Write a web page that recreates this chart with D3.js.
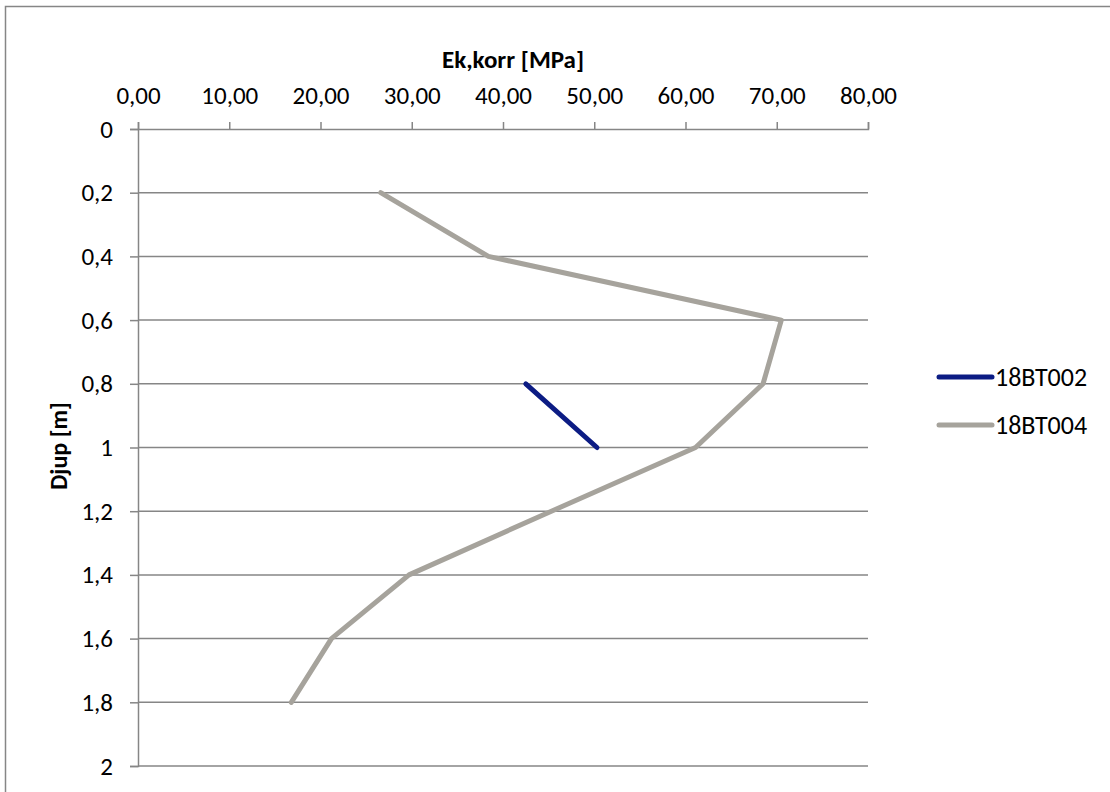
<!DOCTYPE html>
<html>
<head>
<meta charset="utf-8">
<script src="https://cdn.jsdelivr.net/npm/d3@7"></script>
<style>
  body { margin: 0; background: #fff; }
  text { font-family: Carlito, Calibri, Lato, sans-serif; fill: #000; }
</style>
</head>
<body>
<svg width="1110" height="792"></svg>
<script>
// depth [m] per sample
const depths002 = [0.8, 1.0]
const values002 = [42.5, 50.3]

const depths004 = [0.2, 0.4, 0.6, 0.8, 1.0, 1.2, 1.4, 1.6, 1.8]
const values004 = [26.6, 38.4, 70.5, 68.5, 61.1, 45.3, 29.7, 21.2, 16.8]

const seriesNames = ['18BT002', '18BT004']
const colors = ['#0c1c84', '#a6a39c']

const xTicks = [0, 10, 20, 30, 40, 50, 60, 70, 80]
const yTicks = [0, 0.2, 0.4, 0.6, 0.8, 1.0, 1.2, 1.4, 1.6, 1.8, 2.0]

const svg = d3.select('svg')

// frame round the chart (bottom/right run off the page)
svg.append('rect')
    .attr('x', 5.5).attr('y', 6.5)
    .attr('width', 1110).attr('height', 800)
    .attr('fill', 'none')
    .attr('stroke', '#868686')
    .attr('stroke-width', 1.5)

const x = d3.scaleLinear().domain([0, 80]).range([138, 868])
const y = d3.scaleLinear().domain([0, 2]).range([129, 766])

const comma = f => v => f(v).replace('.', ',')

// horizontal gridlines
svg.append('g')
    .selectAll('line')
    .data(yTicks.filter(d => d > 0))
    .join('line')
    .attr('x1', x(0)).attr('x2', x(80))
    .attr('y1', d => y(d)).attr('y2', d => y(d))
    .attr('stroke', '#868686')
    .attr('stroke-width', 1.5)

// top axis
const xAxis = svg.append('g')
    .attr('transform', `translate(0,${y(0)})`)
    .call(d3.axisTop(x).tickValues(xTicks).tickSize(7).tickPadding(18)
        .tickFormat(comma(d3.format('.2f'))))
xAxis.select('.domain').attr('stroke', '#868686').attr('stroke-width', 1.5)
xAxis.selectAll('.tick line').attr('stroke', '#868686').attr('stroke-width', 1.5)
xAxis.selectAll('.tick text').attr('font-size', 25).attr('fill', '#000')

// left axis
const yAxis = svg.append('g')
    .attr('transform', `translate(${x(0)},0)`)
    .call(d3.axisLeft(y).tickValues(yTicks).tickSize(8).tickPadding(17)
        .tickFormat(comma(d3.format('~g'))))
yAxis.select('.domain').attr('stroke', '#868686').attr('stroke-width', 1.5)
yAxis.selectAll('.tick line').attr('stroke', '#868686').attr('stroke-width', 1.5)
yAxis.selectAll('.tick text').attr('font-size', 25).attr('fill', '#000')

// axis titles
svg.append('text')
    .attr('x', 513).attr('y', 68)
    .attr('text-anchor', 'middle')
    .attr('font-size', 25).attr('font-weight', 'bold')
    .text('Ek,korr [MPa]')

svg.append('text')
    .attr('transform', 'translate(67,446) rotate(-90)')
    .attr('text-anchor', 'middle')
    .attr('font-size', 24).attr('font-weight', 'bold')
    .text('Djup [m]')

// series
const series = [
    depths002.map((d, i) => ({ depth: d, value: values002[i] })),
    depths004.map((d, i) => ({ depth: d, value: values004[i] }))
]

const line = d3.line()
    .x(d => x(d.value))
    .y(d => y(d.depth))

// gray drawn first so the blue stays on top
;[1, 0].forEach(i => {
    svg.append('path')
        .datum(series[i])
        .attr('d', line)
        .attr('fill', 'none')
        .attr('stroke', colors[i])
        .attr('stroke-width', 5)
        .attr('stroke-linecap', 'round')
        .attr('stroke-linejoin', 'round')
})

// legend
const legend = svg.append('g')
seriesNames.forEach((name, i) => {
    const ly = 377 + i * 48
    legend.append('line')
        .attr('x1', 939).attr('x2', 992)
        .attr('y1', ly).attr('y2', ly)
        .attr('stroke', colors[i])
        .attr('stroke-width', 5)
        .attr('stroke-linecap', 'round')
    legend.append('text')
        .attr('x', 995).attr('y', ly)
        .attr('dy', '0.33em')
        .attr('font-size', 26)
        .text(name)
})
</script>
</body>
</html>
